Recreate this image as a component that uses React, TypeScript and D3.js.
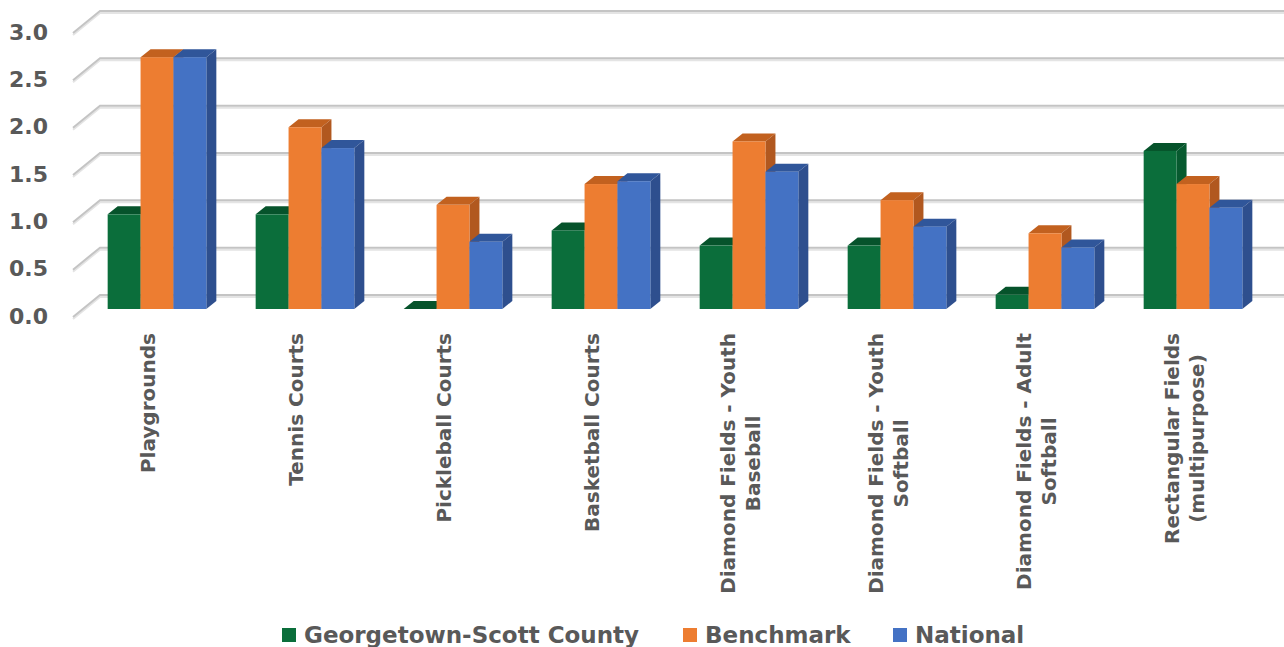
import React, { useEffect, useRef } from "react";
import * as d3 from "d3";

const categories: string[][] = [
  ["Playgrounds"],
  ["Tennis Courts"],
  ["Pickleball Courts"],
  ["Basketball Courts"],
  ["Diamond Fields - Youth", "Baseball"],
  ["Diamond Fields - Youth", "Softball"],
  ["Diamond Fields - Adult", "Softball"],
  ["Rectangular Fields", "(multipurpose)"],
];
const seriesNames = ["Georgetown-Scott County", "Benchmark", "National"];
const georgetown = [1.0, 1.0, 0.0, 0.83, 0.67, 0.67, 0.15, 1.67];
const benchmark = [2.66, 1.92, 1.1, 1.32, 1.77, 1.15, 0.8, 1.32];
const national = [2.66, 1.7, 0.71, 1.35, 1.45, 0.87, 0.65, 1.07];
const tickValues = [0, 0.5, 1, 1.5, 2, 2.5, 3];

const frontColors = ["#0B6E3B", "#ED7D31", "#4472C4"];
const sideColors = ["#075A2F", "#B1581F", "#2E4F8E"];
const topColors = ["#06532B", "#C2611F", "#30569A"];

export default function App() {
  const ref = useRef<SVGSVGElement>(null);
  useEffect(() => {
    const svg = d3.select(ref.current);
    svg.selectAll("*").remove();
    const font = "'DejaVu Sans', sans-serif";
    const textColor = "#595959";

    const backLeft = 100, backRight = 1284;
    const wallDX = 27, wallDY = 22;
    const barOffX = -17, barOffY = 14;
    const barDX = 10, barDY = 8;

    const yBack = d3.scaleLinear().domain([0, 3]).range([295, 11]);

    // gridlines
    const grid = svg.append("g");
    tickValues.forEach((t) => {
      const y = yBack(t);
      const path = `M${backLeft - wallDX},${y + wallDY}L${backLeft},${y}L${backRight},${y}`;
      grid.append("path").attr("d", path).attr("transform", "translate(0,2)")
        .attr("fill", "none").attr("stroke", "#e4e4e4").attr("stroke-width", 2);
      grid.append("path").attr("d", path)
        .attr("fill", "none").attr("stroke", "#c4c4c4").attr("stroke-width", 2);
    });

    // y tick labels
    svg.append("g").selectAll("text").data(tickValues).join("text")
      .attr("x", 48).attr("y", (d) => yBack(d) + wallDY - 1)
      .attr("text-anchor", "end").attr("dominant-baseline", "central")
      .attr("font-family", font).attr("font-weight", "bold").attr("font-size", 22)
      .attr("fill", textColor).text((d) => d3.format(".1f")(d));

    const idx = categories.map((_, i) => String(i));
    const x0 = d3.scaleBand().domain(idx)
      .range([backLeft + barOffX, backRight + barOffX]).paddingInner(0).paddingOuter(0);
    const x1 = d3.scaleBand().domain(seriesNames)
      .range([0, x0.bandwidth()]).paddingInner(0).paddingOuter(0.75);
    const data = [georgetown, benchmark, national];

    const bars = svg.append("g");
    categories.forEach((_, ci) => {
      seriesNames.forEach((s, si) => {
        const v = data[si][ci];
        const x = (x0(String(ci)) as number) + (x1(s) as number);
        const w = x1.bandwidth();
        const bottom = yBack(0) + barOffY;
        const top = yBack(v) + barOffY;
        const g = bars.append("g");
        g.append("polygon")
          .attr("points", `${x},${top} ${x + barDX},${top - barDY} ${x + w + barDX},${top - barDY} ${x + w},${top}`)
          .attr("fill", topColors[si]);
        g.append("polygon")
          .attr("points", `${x + w},${top} ${x + w + barDX},${top - barDY} ${x + w + barDX},${bottom - barDY} ${x + w},${bottom}`)
          .attr("fill", sideColors[si]);
        g.append("rect").attr("x", x).attr("y", top).attr("width", w)
          .attr("height", Math.max(0, bottom - top)).attr("fill", frontColors[si]);
      });
    });

    // category labels
    const labelTop = 333;
    const lineGap = 25;
    categories.forEach((lines, ci) => {
      const cx = (x0(String(ci)) as number) + x0.bandwidth() / 2 - 9;
      const g = svg.append("g").attr("transform", `translate(${cx},${labelTop}) rotate(-90)`);
      const texts = lines.map((ln, li) =>
        g.append("text")
          .attr("y", (li - (lines.length - 1) / 2) * lineGap)
          .attr("dominant-baseline", "central")
          .attr("text-anchor", "middle")
          .attr("font-family", font).attr("font-weight", "bold").attr("font-size", 20)
          .attr("fill", textColor).text(ln)
      );
      const maxLen = d3.max(texts, (t) => (t.node() as SVGTextElement).getComputedTextLength()) || 0;
      texts.forEach((t) => t.attr("x", -maxLen / 2));
    });

    // legend
    const legendX = [282, 683, 893];
    const lg = svg.append("g");
    seriesNames.forEach((s, si) => {
      lg.append("rect").attr("x", legendX[si]).attr("y", 628).attr("width", 14).attr("height", 14)
        .attr("fill", frontColors[si]);
      lg.append("text").attr("x", legendX[si] + 22).attr("y", 643)
        .attr("font-family", font).attr("font-weight", "bold").attr("font-size", 23)
        .attr("fill", textColor).text(s);
    });
  }, []);

  return (
    <svg ref={ref} width={1284} height={647}
      style={{ position: "absolute", left: 0, top: 0, background: "#fff" }} />
  );
}
